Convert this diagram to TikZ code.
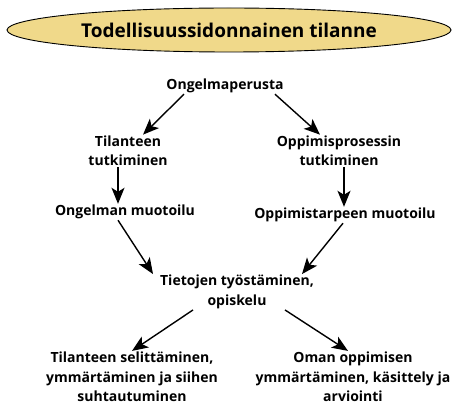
\documentclass[tikz,border=0pt]{standalone}
\usepackage{fontspec}
\setmainfont{Open Sans}
\usepackage{tikz}
\usetikzlibrary{arrows.meta,shapes.geometric}

\definecolor{otsikko}{HTML}{F0D98A}

\begin{document}
\begin{tikzpicture}[x=1pt,y=-1pt,
	teksti/.style={align=center,inner sep=1pt,font=\bfseries\fontsize{14}{19.5}\selectfont},
	nuoli/.style={line width=1.4pt,-{Stealth[length=16pt,width=13pt,inset=4pt]}}]

			\useasboundingbox (0,0) rectangle (452,406);

			\node[ellipse,draw,line width=0.9pt,fill=otsikko,minimum width=444pt,minimum height=44pt,
				font=\bfseries\fontsize{19}{22}\selectfont] (otsikko) at (229,30) {Todellisuussidonnainen tilanne};

			\node[teksti] (perusta) at (225,86) {Ongelmaperusta};
			\node[teksti] (tilanne) at (128,151) {Tilanteen\\tutkiminen};
			\node[teksti] (prosessi) at (339,151) {Oppimisprosessin\\tutkiminen};
			\node[teksti] (ongelma) at (125,212) {Ongelman muotoilu};
			\node[teksti] (tarve) at (345,215) {Oppimistarpeen muotoilu};
			\node[teksti] (tieto) at (237,292) {Tietojen työstäminen,\\opiskelu};
			\node[teksti] (selitys) at (132,377) {Tilanteen selittäminen,\\ymmärtäminen ja siihen\\suhtautuminen};
			\node[teksti] (oma) at (353,377) {Oman oppimisen\\ymmärtäminen, käsittely ja\\arviointi};

			\draw[nuoli] ([xshift=-41pt]perusta.south) -- ([xshift=15pt]tilanne.north);
			\draw[nuoli] ([xshift=50pt]perusta.south) -- ([xshift=-19pt]prosessi.north);
			\draw[nuoli] ([xshift=-10pt]tilanne.south) -- ([xshift=-7pt]ongelma.north);
			\draw[nuoli] ([xshift=5pt]prosessi.south) -- ([xshift=-1pt]tarve.north);
			\draw[nuoli] ([xshift=-7pt]ongelma.south) -- ([xshift=-84pt]tieto.north);
			\draw[nuoli] ([xshift=-2pt]tarve.south) -- ([xshift=65pt]tieto.north);
			\draw[nuoli] ([xshift=-44pt]tieto.south) -- (selitys.north);
			\draw[nuoli] ([xshift=48pt]tieto.south) -- ([xshift=-5pt]oma.north);

		\end{tikzpicture}
\end{document}
